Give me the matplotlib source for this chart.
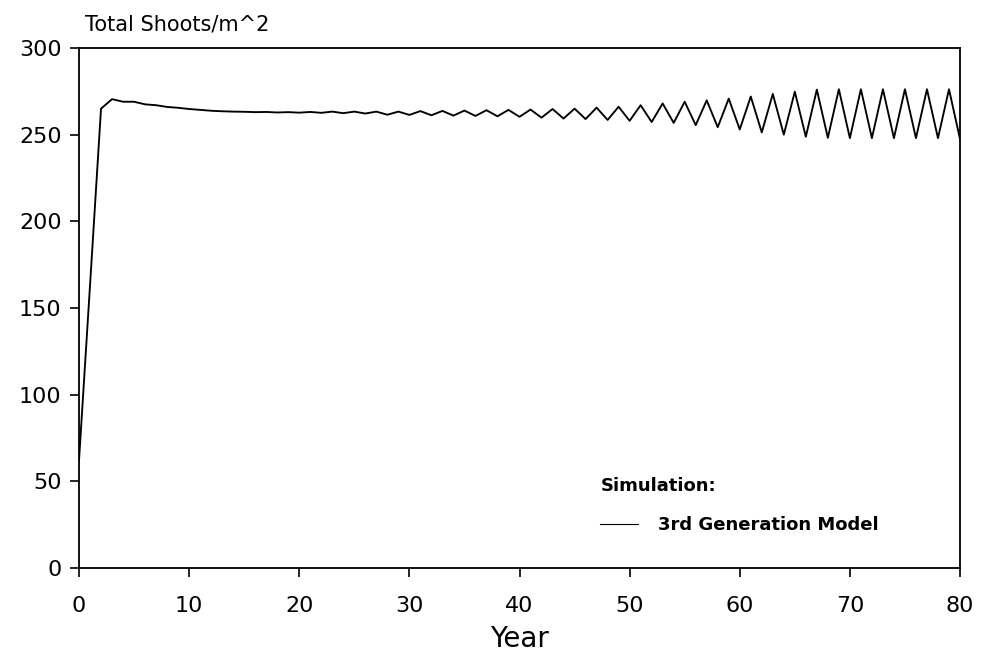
import matplotlib
matplotlib.use("Agg")
import matplotlib.pyplot as plt

years = list(range(0, 81))
shoots = [
    62, 163, 265, 270.5, 269, 269, 267.5, 267, 266, 265.5,
    264.8, 264.3, 263.8, 263.5, 263.3, 263.2, 263.0, 263.1, 262.8, 263.0,
    262.7, 263.1, 262.6, 263.3, 262.4, 263.3, 262.2, 263.3, 261.5, 263.3,
    261.4, 263.6, 261.2, 263.7, 261.0, 263.9, 260.8, 264.1, 260.6, 264.3,
    260.3, 264.5, 259.8, 264.8, 259.3, 265.0, 259.0, 265.6, 258.5, 266.1,
    258.0, 267.0, 257.3, 268.0, 256.8, 269.0, 255.5, 269.8, 254.3, 270.8,
    253.0, 272.0, 251.3, 273.5, 250.0, 274.8, 248.8, 276.0, 248.2, 276.2,
    248.0, 276.2, 248.0, 276.2, 248.0, 276.2, 248.0, 276.2, 248.0, 276.2,
    247.5,
]
x_ticks = [0, 10, 20, 30, 40, 50, 60, 70, 80]
y_ticks = [0, 50, 100, 150, 200, 250, 300]

plt.rcParams['font.family'] = ['DejaVu Sans']

fig = plt.figure(figsize=(9.81, 6.58), dpi=100)
ax = fig.add_axes([79/981, 1-568/658, (960-79)/981, (568-48)/658])

line, = ax.plot(years, shoots, color='black', lw=1.35, label='3rd Generation Model')

ax.set_xlim(0, 80)
ax.set_ylim(0, 300)
ax.set_xticks(x_ticks)
ax.set_yticks(y_ticks)
ax.tick_params(direction='out', length=6.5, width=1.2, labelsize=16)
ax.tick_params(axis='y', pad=6)
ax.tick_params(axis='x', pad=14)
for s in ax.spines.values():
    s.set_linewidth(1.3)

ax.set_xlabel('Year', fontsize=20, labelpad=6)
fig.text(85/981, 1-31/658, 'Total Shoots/m^2', fontsize=15, ha='left', va='baseline')

leg = ax.legend(handles=[line], title='Simulation:', frameon=False,
                loc='upper left', bbox_to_anchor=(584/981, 1-461/658),
                bbox_transform=fig.transFigure, fontsize=13, handlelength=2.1,
                handletextpad=1.1, labelspacing=1.15,
                title_fontproperties={'weight': 'bold', 'size': 13})
leg._legend_box.align = 'left'
for t in leg.get_texts():
    t.set_fontweight('bold')
for h in leg.legend_handles:
    h.set_linewidth(0.8)

fig.savefig('out.png', dpi=100)
